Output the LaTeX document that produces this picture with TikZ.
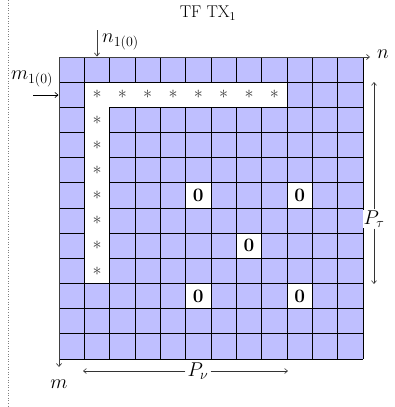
\RequirePackage{fix-cm}
\documentclass[tikz,border=0pt]{standalone}
\usetikzlibrary{arrows.meta}
\definecolor{cellblue}{RGB}{191,191,255}
\definecolor{stargray}{RGB}{60,60,60}
\begin{document}
\begin{tikzpicture}[x=1pt,y=-1pt,
  gridline/.style={line width=0.8pt,draw=black},
  axis/.style={line width=0.7pt,draw=black!75,-{Straight Barb[length=3pt,width=5pt]}},
  dim/.style={line width=0.6pt,draw=black!80,-{Straight Barb[length=3pt,width=5pt]}},
  lab/.style={font=\fontsize{20}{22}\selectfont,inner sep=0pt},
  ttl/.style={font=\fontsize{17}{19}\selectfont,inner sep=0pt},
  star/.style={font=\fontsize{18}{19}\selectfont,text=stargray,inner sep=0pt},
  zero/.style={font=\fontsize{19}{20}\selectfont\bfseries,inner sep=0pt}]
\useasboundingbox (0,0) rectangle (394,407);
\def\gx{59}\def\gy{57}\def\cw{25.333}\def\ch{25.167}
% dotted margin line
\draw[black!50,dotted,line width=0.6pt] (8,0) -- (8,407);
% cells
\fill[cellblue] (\gx,\gy) rectangle (363,359);
\foreach \c/\r in {5/5,9/5,7/7,5/9,9/9}
  \fill[white] ({\gx+\c*\cw},{\gy+\r*\ch}) rectangle ({\gx+(\c+1)*\cw},{\gy+(\r+1)*\ch});
\foreach \i in {1,...,12}
  \draw[gridline] ({\gx+\i*\cw},\gy) -- ({\gx+\i*\cw},359);
\foreach \i in {1,...,12}
  \draw[gridline] (\gx,{\gy+\i*\ch}) -- (363,{\gy+\i*\ch});
% white L region
\filldraw[fill=white,gridline] ({\gx+\cw},{\gy+\ch}) -- ({\gx+9*\cw},{\gy+\ch}) -- ({\gx+9*\cw},{\gy+2*\ch})
  -- ({\gx+2*\cw},{\gy+2*\ch}) -- ({\gx+2*\cw},{\gy+9*\ch}) -- ({\gx+\cw},{\gy+9*\ch}) -- cycle;
% stars
\foreach \c in {1,...,8}
  \node[star] (sr\c) at ({\gx+(\c+0.5)*\cw},{\gy+1.5*\ch}) {$\ast$};
\foreach \r in {2,...,8}
  \node[star] (sc\r) at ({\gx+1.5*\cw},{\gy+(\r+0.5)*\ch}) {$\ast$};
% zeros
\foreach \c/\r/\n in {5/5/a,9/5/b,7/7/c,5/9/d,9/9/e}
  \node[zero] (z\n) at ({\gx+(\c+0.5)*\cw},{\gy+(\r+0.5)*\ch}) {0};
% axes
\coordinate (O) at (\gx,\gy);
\coordinate (nend) at (370,\gy);
\coordinate (mend) at (\gx,367);
\draw[axis] (O) -- (nend);
\draw[axis] (O) -- (mend);
\node[lab,anchor=west] (nlab) at (377,54) {$n$};
\node[lab] (mlab) at (59,384) {$m$};
% title
\node[ttl] (title) at (208,13) {TF TX$_1$};
% n_{1(0)} and m_{1(0)}
\coordinate (na) at (97,30);
\coordinate (nb) at (97,56.5);
\draw[axis] (na) -- (nb);
\node[lab,anchor=west] (n10) at (102,42) {$n_{1(0)}$};
\coordinate (ma) at (33,95);
\coordinate (mb) at (58.5,95);
\draw[axis,draw=black] (ma) -- (mb);
\node[lab] (m10) at (32,79) {$m_{1(0)}$};
% P_tau
\node[lab,fill=white,inner sep=1pt] (ptau) at (374,219) {$P_\tau$};
\coordinate (pt1) at (374,82);
\coordinate (pt2) at (374,284);
\draw[dim] (ptau.north) -- (pt1);
\draw[dim] (ptau.south) -- (pt2);
% P_nu
\node[lab,inner sep=2pt] (pnu) at (198,371) {$P_\nu$};
\coordinate (pn1) at (83,371);
\coordinate (pn2) at (288,371);
\draw[dim] (pnu.west) -- (pn1);
\draw[dim] (pnu.east) -- (pn2);
\end{tikzpicture}
\end{document}
